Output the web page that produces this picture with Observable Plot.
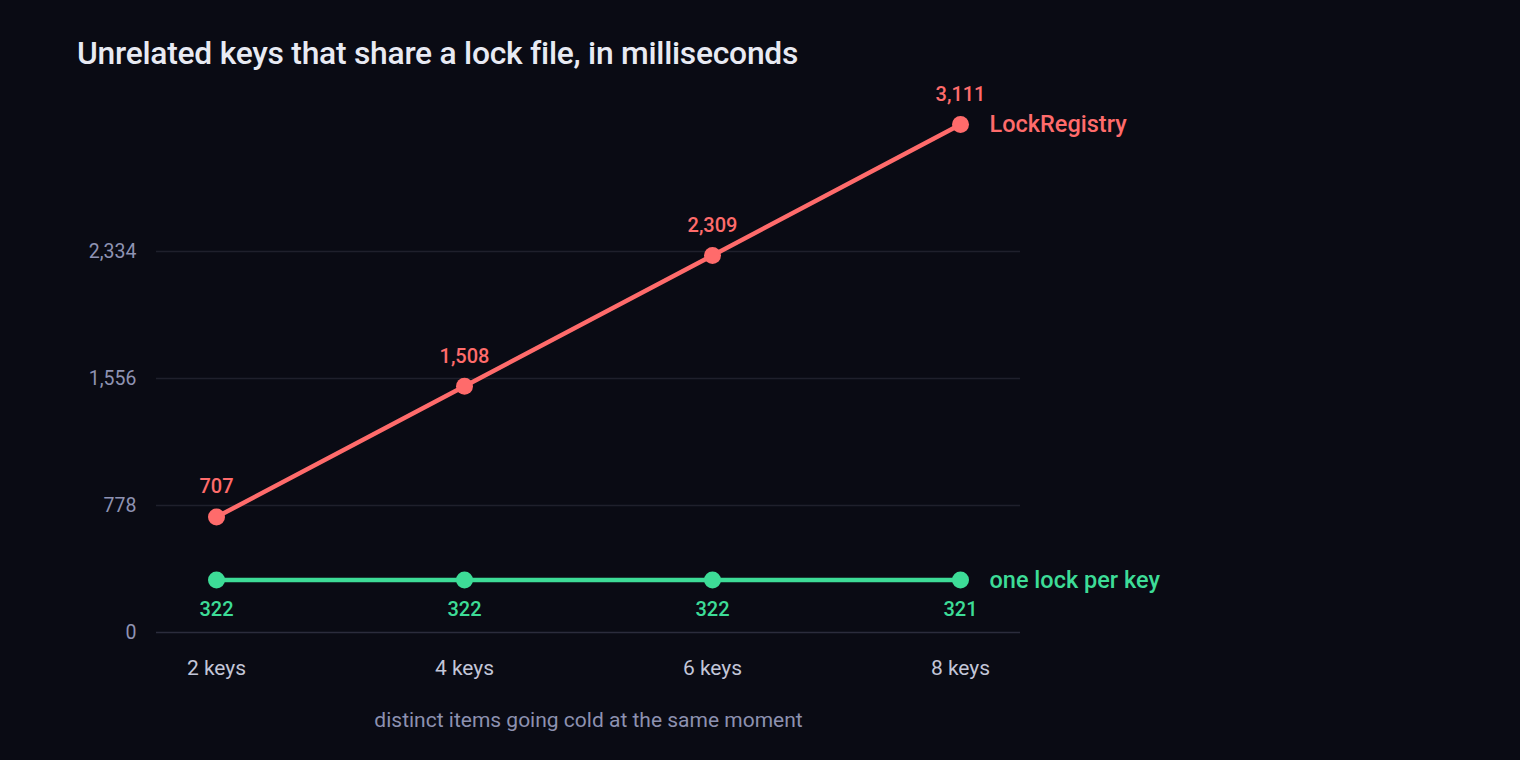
<!DOCTYPE html>
<html>
<head>
<meta charset="utf-8">
<script src="https://cdn.jsdelivr.net/npm/d3@7"></script>
<script src="https://cdn.jsdelivr.net/npm/@observablehq/plot@0.6"></script>
<style>
  html, body { margin: 0; padding: 0; background: #0a0b14; }
  body { width: 1520px; height: 760px; overflow: hidden; font-family: "Roboto", sans-serif; }
  #title { height: 90px; box-sizing: border-box; padding: 37px 0 0 77px; color: #e8eaf3; font-size: 31.8px; line-height: 32px; font-weight: 500; letter-spacing: -0.25px; white-space: nowrap; }
  #chart svg { display: block; }
</style>
</head>
<body>
<div id="title">Unrelated keys that share a lock file, in milliseconds</div>
<div id="chart"></div>
<script>
const keys = ["2 keys", "4 keys", "6 keys", "8 keys"];
const lockRegistry = [707, 1508, 2309, 3111];
const oneLockPerKey = [322, 322, 322, 321];
const yTicks = [0, 778, 1556, 2334];
const seriesNames = ["LockRegistry", "one lock per key"];
const seriesColors = ["#ff6b6b", "#3ddc97"];

const rows = [];
keys.forEach((k, i) => {
  rows.push({key: k, value: lockRegistry[i], series: seriesNames[0]});
  rows.push({key: k, value: oneLockPerKey[i], series: seriesNames[1]});
});
const red = rows.filter(d => d.series === seriesNames[0]);
const green = rows.filter(d => d.series === seriesNames[1]);
const lastRows = [red[red.length - 1], green[green.length - 1]];
const fmt = d3.format(",");

const chart = Plot.plot({
  width: 1520,
  height: 670,
  marginLeft: 156,
  marginRight: 500,
  marginTop: 34,
  marginBottom: 128,
  style: {background: "transparent", fontFamily: "Roboto, sans-serif", overflow: "visible"},
  x: {type: "point", domain: keys, padding: 0.2419, round: false},
  y: {domain: [0, 3111]},
  color: {domain: seriesNames, range: seriesColors},
  marks: [
    Plot.ruleY(yTicks.filter(t => t > 0), {stroke: "#1f202c", strokeWidth: 1.5}),
    Plot.ruleY([0], {stroke: "#2b2c3c", strokeWidth: 1.5}),
    Plot.axisY({ticks: yTicks, tickSize: 0, tickPadding: 20, tickFormat: fmt, label: null, fill: "#8f93b3", fontSize: 19.5}),
    Plot.axisX({tickSize: 0, tickPadding: 28, label: null, fill: "#c3c6d8", fontSize: 21}),
    Plot.text(["distinct items going cold at the same moment"], {frameAnchor: "bottom", dy: 94, fill: "#8d91b0", fontSize: 21}),
    Plot.line(rows, {x: "key", y: "value", z: "series", stroke: "series", strokeWidth: 4.5}),
    Plot.dot(rows, {x: "key", y: "value", fill: "series", r: 8.5}),
    Plot.text(red, {x: "key", y: "value", text: d => fmt(d.value), fill: "series", dy: -30, fontSize: 20, fontWeight: 500}),
    Plot.text(green, {x: "key", y: "value", text: d => fmt(d.value), fill: "series", dy: 30, fontSize: 20, fontWeight: 500}),
    Plot.text(lastRows, {x: "key", y: "value", text: "series", fill: "series", textAnchor: "start", dx: 29, fontSize: 23.5, fontWeight: 500})
  ]
});
document.getElementById("chart").appendChild(chart);
</script>
</body>
</html>
